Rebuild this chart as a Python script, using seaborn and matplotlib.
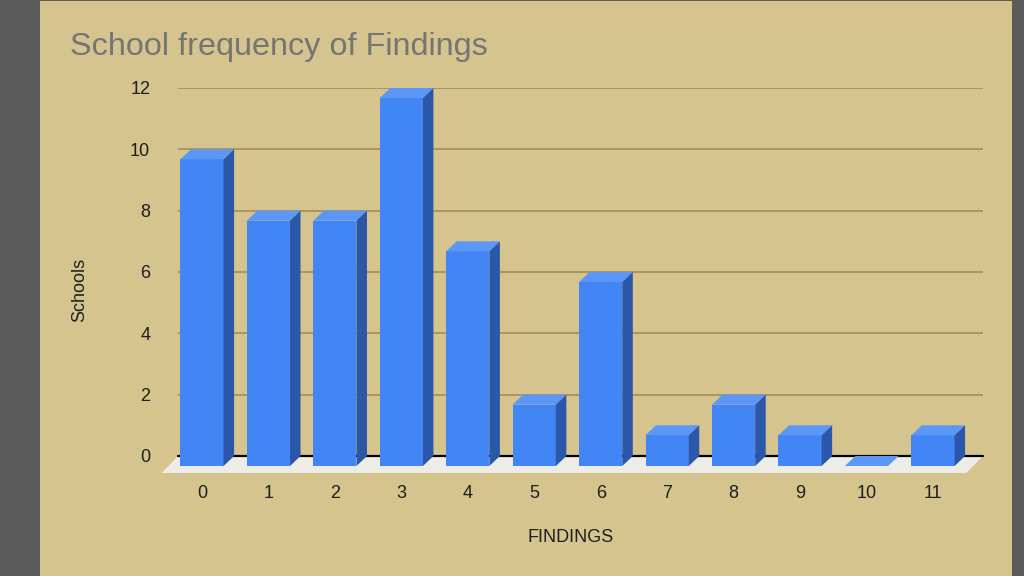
import matplotlib
matplotlib.use("Agg")
import matplotlib.pyplot as plt
import seaborn as sns
from matplotlib.patches import Polygon, Rectangle

# data
findings = ["0", "1", "2", "3", "4", "5", "6", "7", "8", "9", "10", "11"]
schools = [10, 8, 8, 12, 7, 2, 6, 1, 2, 1, 0, 1]
y_ticks = [0, 2, 4, 6, 8, 10, 12]

front_col = "#4285f4"
top_col = "#5c96f6"
side_col = "#2b57a8"
floor_col = "#eeece6"
tan = "#d5c48d"

sns.set_theme(style="white")
plt.rcParams['font.family'] = ['Liberation Sans', 'DejaVu Sans']

fig = plt.figure(figsize=(10.24, 5.76), dpi=100, facecolor="#5a5a5a")
fig.patches.append(Rectangle((40 / 1024, 0), 972 / 1024, 575 / 576,
                             transform=fig.transFigure, facecolor=tan,
                             edgecolor="none", zorder=-1))

# axes = back wall of the 3d box
ax = fig.add_axes([178 / 1024, 120 / 576, 805 / 1024, 368 / 576])
ax.set_facecolor("none")

sns.barplot(x=findings, y=schools, color=front_col, saturation=1,
            width=0.65, ax=ax, zorder=4)

ax.set_xlim(-0.519, 11.595)
ax.set_ylim(0, 12)

# pixel -> data units for the depth offsets
p0 = ax.transData.transform((0, 0))
p1 = ax.transData.transform((1, 1))
ux, uy = p1[0] - p0[0], p1[1] - p0[1]
dx, dy = -10.5 / ux, -10 / uy        # bar front face offset
fdx, fdy = -16.5 / ux, -17 / uy      # floor front edge offset

bars = list(ax.patches)
for p in bars:
    x0, w, h = p.get_x(), p.get_width(), p.get_height()
    p.set_x(x0 + dx)
    p.set_y(dy)
    p.set_clip_on(False)
    p.set_edgecolor("none")
    top = Polygon([(x0 + dx, dy + h), (x0 + dx + w, dy + h), (x0 + w, h), (x0, h)],
                  closed=True, facecolor=top_col, edgecolor="none", zorder=4, clip_on=False)
    side = Polygon([(x0 + dx + w, dy), (x0 + w, 0), (x0 + w, h), (x0 + dx + w, dy + h)],
                   closed=True, facecolor=side_col, edgecolor="none", zorder=4, clip_on=False)
    ax.add_patch(top)
    ax.add_patch(side)

xl0, xl1 = ax.get_xlim()
floor = Polygon([(xl0, 0), (xl1, 0), (xl1 + fdx, fdy), (xl0 + fdx, fdy)],
                closed=True, facecolor=floor_col, edgecolor="none", zorder=2, clip_on=False)
ax.add_patch(floor)
ax.axhline(0, color="black", lw=1.6, zorder=2.5, clip_on=False)

ax.set_yticks(y_ticks)
ax.grid(axis="y", color="#a38d5c", lw=1.2)
ax.grid(axis="x", visible=False)
ax.set_axisbelow(True)
ax.set_xticks([i + dx for i in range(len(findings))], findings)
for s in ax.spines.values():
    s.set_visible(False)
ax.tick_params(axis="y", length=0, pad=20, labelsize=13, labelcolor="#1e1e1e")
ax.tick_params(axis="x", length=0, pad=21, labelsize=13, labelcolor="#1e1e1e")

ax.set_ylabel("Schools", fontsize=13, color="#1e1e1e")
ax.yaxis.label.set_verticalalignment("center")
ax.yaxis.set_label_coords((80 - 178) / 805, (456 - 290) / 368)
ax.set_xlabel("FINDINGS", fontsize=13, color="#1e1e1e")
ax.xaxis.set_label_coords((571 - 178) / 805, (456 - 529) / 368)

fig.text(70 / 1024, 1 - 55 / 576, "School frequency of Findings", fontsize=23.3,
         color="#757575", ha="left", va="baseline")

fig.savefig("out.png", dpi=100, facecolor=fig.get_facecolor())
